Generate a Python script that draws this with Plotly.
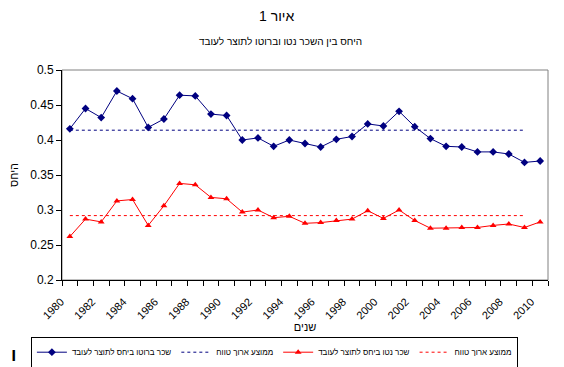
import plotly.graph_objects as go

years = list(range(1980, 2011))
gross = [0.416, 0.445, 0.432, 0.470, 0.459, 0.418, 0.430, 0.464, 0.463, 0.437,
         0.435, 0.400, 0.403, 0.391, 0.400, 0.395, 0.390, 0.401, 0.405, 0.423,
         0.420, 0.441, 0.419, 0.402, 0.391, 0.390, 0.383, 0.383, 0.380, 0.368, 0.370]
net = [0.262, 0.287, 0.283, 0.313, 0.315, 0.278, 0.306, 0.338, 0.336, 0.318,
       0.316, 0.297, 0.300, 0.289, 0.291, 0.281, 0.282, 0.285, 0.287, 0.299,
       0.288, 0.300, 0.285, 0.274, 0.274, 0.275, 0.275, 0.278, 0.280, 0.275, 0.283]
gross_avg_value = 0.414
net_avg_value = 0.292
avg_years = years[:-1]
gross_avg = [gross_avg_value] * len(avg_years)
net_avg = [net_avg_value] * len(avg_years)
tick_years = list(range(1980, 2011, 2))
tick_labels = [str(y) for y in tick_years]

names = ["שכר ברוטו ביחס לתוצר לעובד", "ממוצע ארוך טווח",
         "שכר נטו ביחס לתוצר לעובד", "ממוצע ארוך טווח"]

NAVY = "#000080"
RED = "#FF0000"
FONT = "Liberation Sans, Arial, sans-serif"

fig = go.Figure()
fig.add_trace(go.Scatter(x=years, y=gross, mode="lines+markers", name=names[0],
                         line=dict(color=NAVY, width=1),
                         marker=dict(symbol="diamond", size=6, color=NAVY)))
fig.add_trace(go.Scatter(x=avg_years, y=gross_avg, mode="lines", name=names[1],
                         line=dict(color=NAVY, width=1, dash="dot")))
fig.add_trace(go.Scatter(x=years, y=net, mode="lines+markers", name=names[2],
                         line=dict(color=RED, width=1),
                         marker=dict(symbol="triangle-up", size=6, color=RED)))
fig.add_trace(go.Scatter(x=avg_years, y=net_avg, mode="lines", name=names[3],
                         line=dict(color=RED, width=1, dash="dot")))

# the page body adds an 8px offset, so the figure is 8px smaller and margins adjusted
fig.update_layout(
    width=556, height=359,
    margin=dict(l=54, r=16, t=62, b=87, autoexpand=False),
    paper_bgcolor="white", plot_bgcolor="white",
    font=dict(family=FONT, size=11, color="black"),
    showlegend=True,
    legend=dict(orientation="h", x=-0.064, y=-0.27, xanchor="left", yanchor="top",
                bordercolor="black", borderwidth=1, font=dict(size=8, family=FONT),
                itemwidth=30, tracegroupgap=0, traceorder="normal",
                bgcolor="white"),
    shapes=[dict(type="rect", xref="paper", yref="paper", x0=0, x1=1, y0=0, y1=1,
                 line=dict(color="#808080", width=1), layer="below")],
    annotations=[
        dict(text="איור 1", xref="paper", yref="paper", x=0.442, y=1.0, yanchor="middle",
             xanchor="center", yshift=54, showarrow=False, font=dict(size=14, family=FONT)),
        dict(text="היחס בין השכר נטו וברוטו לתוצר לעובד", xref="paper", yref="paper",
             x=0.45, y=1.0, yanchor="middle", xanchor="center", yshift=29,
             showarrow=False, font=dict(size=10, family=FONT)),
        dict(text="<b>ו</b>", xref="paper", yref="paper", x=0, y=0, xanchor="center",
             yanchor="middle", xshift=-49, yshift=-75, showarrow=False,
             font=dict(size=18, family=FONT)),
    ],
)

fig.update_xaxes(
    range=[1979.5, 2010.5], tickmode="array", tickvals=tick_years, ticktext=tick_labels,
    tickangle=-45, ticks="", ticklabelshift=-9, ticklabelstandoff=10,
    showline=True, linecolor="black", linewidth=1, showgrid=False, zeroline=False,
    minor=dict(ticks="outside", tick0=1979.5, dtick=1, ticklen=5, tickcolor="black",
               showgrid=False),
    title=dict(text="שנים", font=dict(size=11, family=FONT), standoff=2),
    tickfont=dict(size=11, family=FONT),
)
fig.update_yaxes(
    range=[0.2, 0.5], dtick=0.05, tick0=0.2, tickformat="",
    ticks="outside", ticklen=5, tickcolor="black",
    showline=True, linecolor="black", linewidth=1, showgrid=False, zeroline=False,
    title=dict(text="היחס", font=dict(size=11, family=FONT), standoff=10),
    tickfont=dict(size=12, family=FONT),
)

fig.write_html("out.html")
